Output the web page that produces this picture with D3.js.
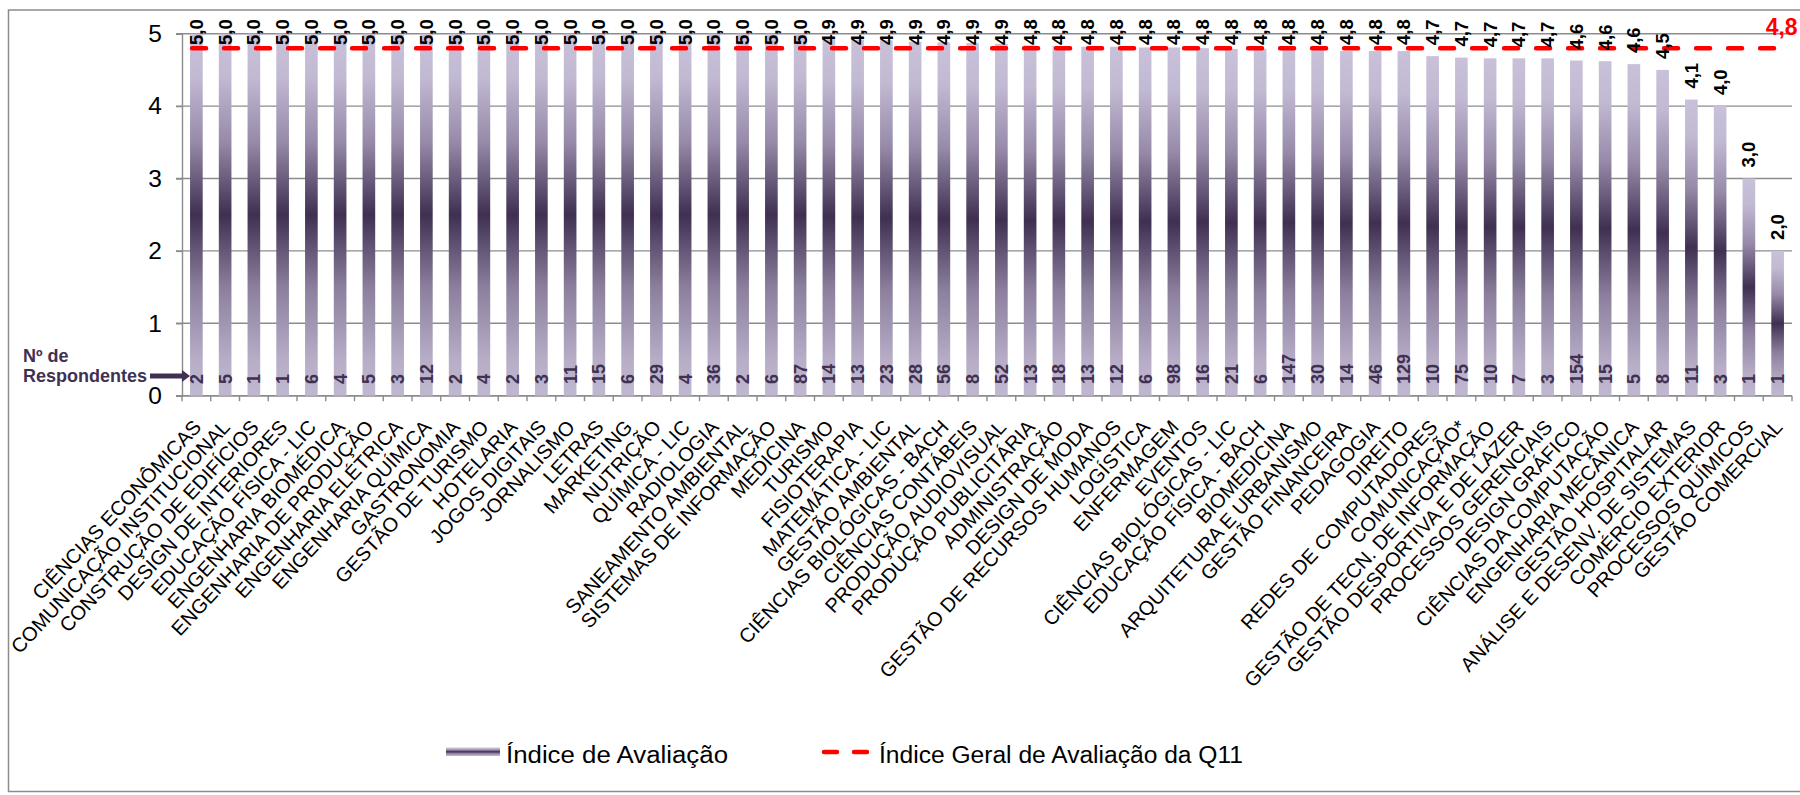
<!DOCTYPE html>
<html>
<head>
<meta charset="utf-8">
<script src="https://cdn.jsdelivr.net/npm/d3@7"></script>
<style>
  html, body { margin: 0; padding: 0; background: #fff; }
  svg { display: block; font-family: "Liberation Sans", Arial, sans-serif; }
</style>
</head>
<body>
<svg id="chart" width="1800" height="795"></svg>
<script>
const categories = [
  "CIÊNCIAS ECONÔMICAS", "COMUNICAÇÃO INSTITUCIONAL", "CONSTRUÇÃO DE EDIFÍCIOS", "DESIGN DE INTERIORES",
  "EDUCAÇÃO FÍSICA - LIC", "ENGENHARIA BIOMÉDICA", "ENGENHARIA DE PRODUÇÃO", "ENGENHARIA ELÉTRICA",
  "ENGENHARIA QUÍMICA", "GASTRONOMIA", "GESTÃO DE TURISMO", "HOTELARIA", "JOGOS DIGITAIS", "JORNALISMO",
  "LETRAS", "MARKETING", "NUTRIÇÃO", "QUÍMICA - LIC", "RADIOLOGIA", "SANEAMENTO AMBIENTAL",
  "SISTEMAS DE INFORMAÇÃO", "MEDICINA", "TURISMO", "FISIOTERAPIA", "MATEMÁTICA - LIC", "GESTÃO AMBIENTAL",
  "CIÊNCIAS BIOLÓGICAS - BACH", "CIÊNCIAS CONTÁBEIS", "PRODUÇÃO AUDIOVISUAL", "PRODUÇÃO PUBLICITÁRIA",
  "ADMINISTRAÇÃO", "DESIGN DE MODA", "GESTÃO DE RECURSOS HUMANOS", "LOGÍSTICA", "ENFERMAGEM", "EVENTOS",
  "CIÊNCIAS BIOLÓGICAS - LIC", "EDUCAÇÃO FÍSICA - BACH", "BIOMEDICINA", "ARQUITETURA E URBANISMO",
  "GESTÃO FINANCEIRA", "PEDAGOGIA", "DIREITO", "REDES DE COMPUTADORES", "COMUNICAÇÃO*",
  "GESTÃO DE TECN. DE INFORMAÇÃO", "GESTÃO DESPORTIVA E DE LAZER", "PROCESSOS GERENCIAIS", "DESIGN GRÁFICO",
  "CIÊNCIAS DA COMPUTAÇÃO", "ENGENHARIA MECÂNICA", "GESTÃO HOSPITALAR", "ANÁLISE E DESENV. DE SISTEMAS",
  "COMÉRCIO EXTERIOR", "PROCESSOS QUÍMICOS", "GESTÃO COMERCIAL"
];
const indexValues = [
  5.0, 5.0, 5.0, 5.0, 5.0, 5.0, 5.0, 5.0, 5.0, 5.0, 5.0, 5.0, 5.0, 5.0, 5.0, 5.0, 5.0, 5.0, 5.0, 5.0, 5.0, 5.0,
  4.94, 4.92, 4.91, 4.89, 4.88, 4.87, 4.86,
  4.84, 4.83, 4.82, 4.82, 4.81, 4.81, 4.80, 4.79, 4.79, 4.79, 4.78, 4.76, 4.76, 4.76,
  4.69, 4.67, 4.66, 4.66, 4.66,
  4.63, 4.62, 4.58,
  4.50, 4.09, 4.00, 3.00, 2.00
];
const respondents = [
  2, 5, 1, 1, 6, 4, 5, 3, 12, 2, 4, 2, 3, 11, 15, 6, 29, 4, 36, 2, 6, 87,
  14, 13, 23, 28, 56, 8, 52,
  13, 18, 13, 12, 6, 98, 16, 21, 6, 147, 30, 14, 46, 129,
  10, 75, 10, 7, 3,
  154, 15, 5,
  8, 11, 3, 1, 1
];
const yTickValues = [0, 1, 2, 3, 4, 5];
const overallIndex = 4.8;
const legendLabels = ["Índice de Avaliação", "Índice Geral de Avaliação da Q11"];
const respondentsNote = ["Nº de", "Respondentes"];

const svg = d3.select("#chart");
const plot = { left: 182, right: 1792, top: 33.7, bottom: 395.7 };
const fmt = v => d3.format(".1f")(v).replace(".", ",");
const purple = "#403152";
const gridColor = "#8c8c8c";

const defs = svg.append("defs");
const grad = defs.append("linearGradient").attr("id", "barGrad")
  .attr("x1", 0).attr("y1", 0).attr("x2", 0).attr("y2", 1);
[[0, "#c9c1da"], [0.12, "#c2b9d3"], [0.3, "#968aa8"], [0.5, "#3f3052"], [0.7, "#8b7f9d"], [0.9, "#b7adc7"], [1, "#c0b7d0"]]
  .forEach(([o, c]) => grad.append("stop").attr("offset", o).attr("stop-color", c));

// outer chart border
svg.append("rect").attr("x", 8.5).attr("y", 10).attr("width", 1800).attr("height", 781.5)
  .attr("fill", "none").attr("stroke", gridColor).attr("stroke-width", 1.5);

const x = d3.scaleBand().domain(categories).range([plot.left, plot.right])
  .paddingInner(0.56).paddingOuter(0.28);
const y = d3.scaleLinear().domain([0, 5]).range([plot.bottom, plot.top]);
const step = x.step();
const bw = x.bandwidth();
const cx = c => x(c) + bw / 2;

// gridlines
svg.append("g").selectAll("line").data(yTickValues).join("line")
  .attr("x1", plot.left - 6).attr("x2", plot.right)
  .attr("y1", d => y(d)).attr("y2", d => y(d))
  .attr("stroke", gridColor).attr("stroke-width", 1.4);

// y axis
const yAxis = svg.append("g").attr("transform", `translate(${plot.left},0)`)
  .call(d3.axisLeft(y).tickValues(yTickValues).tickSize(6).tickPadding(14).tickFormat(d3.format("d")));
yAxis.select(".domain").attr("stroke", gridColor).attr("stroke-width", 1.4);
yAxis.selectAll(".tick line").attr("stroke", gridColor).attr("stroke-width", 1.4);
yAxis.selectAll(".tick text").attr("font-size", 24.5).attr("fill", "#000")
  .attr("font-family", "'Liberation Sans', Arial, sans-serif");

// x axis line + boundary ticks
svg.append("line").attr("x1", plot.left).attr("x2", plot.right)
  .attr("y1", plot.bottom).attr("y2", plot.bottom).attr("stroke", gridColor).attr("stroke-width", 1.4);
svg.append("g").selectAll("line").data(d3.range(categories.length + 1)).join("line")
  .attr("x1", i => plot.left + i * step).attr("x2", i => plot.left + i * step)
  .attr("y1", plot.bottom).attr("y2", plot.bottom + 5.5)
  .attr("stroke", gridColor).attr("stroke-width", 1.4);

// bars
svg.append("g").selectAll("rect").data(categories).join("rect")
  .attr("x", d => x(d)).attr("width", bw)
  .attr("y", (d, i) => y(indexValues[i]))
  .attr("height", (d, i) => y(0) - y(indexValues[i]))
  .attr("fill", "url(#barGrad)");

// overall index line
svg.append("line")
  .attr("x1", x(categories[0]) + 2).attr("x2", cx(categories[categories.length - 1]))
  .attr("y1", y(overallIndex)).attr("y2", y(overallIndex))
  .attr("stroke", "#ff0000").attr("stroke-width", 4.5)
  .attr("stroke-linecap", "round").attr("stroke-dasharray", "14,18");
svg.append("text")
  .attr("x", cx(categories[categories.length - 1]) - 12).attr("y", y(overallIndex) - 13)
  .attr("font-size", 23).attr("font-weight", "bold").attr("fill", "#ff0000")
  .text(fmt(overallIndex));

// value labels (rotated)
svg.append("g").selectAll("text").data(categories).join("text")
  .attr("transform", (d, i) => `translate(${cx(d) + 6.5},${Math.max(y(indexValues[i]) - 11, 45)}) rotate(-90)`)
  .attr("font-size", 18.5).attr("font-weight", "bold").attr("fill", "#000")
  .text((d, i) => fmt(indexValues[i]));

// respondent counts (rotated, inside bars)
svg.append("g").selectAll("text").data(categories).join("text")
  .attr("transform", d => `translate(${cx(d) + 6.5},384) rotate(-90)`)
  .attr("font-size", 18).attr("font-weight", "bold").attr("fill", purple)
  .text((d, i) => respondents[i]);

// category labels
svg.append("g").selectAll("text").data(categories).join("text")
  .attr("transform", d => `translate(${cx(d) + 6},428) rotate(-47)`)
  .attr("text-anchor", "end").attr("font-size", 20).attr("fill", "#000")
  .text(d => d);

// respondents note + arrow
svg.append("text").attr("x", 23).attr("y", 361.5)
  .attr("font-size", 18).attr("font-weight", "bold").attr("fill", purple).text(respondentsNote[0]);
svg.append("text").attr("x", 23).attr("y", 381.5)
  .attr("font-size", 18).attr("font-weight", "bold").attr("fill", purple).text(respondentsNote[1]);
svg.append("rect").attr("x", 150).attr("y", 373.5).attr("width", 33).attr("height", 5).attr("fill", purple);
svg.append("path").attr("d", "M182,370 L190,376 L182,382 Z").attr("fill", purple);

// legend
svg.append("rect").attr("x", 446).attr("y", 747.5).attr("width", 54).attr("height", 8.5).attr("fill", "url(#barGrad)");
svg.append("text").attr("x", 506).attr("y", 763).attr("font-size", 23).attr("fill", "#000")
  .attr("textLength", 222).attr("lengthAdjust", "spacingAndGlyphs").text(legendLabels[0]);
svg.append("line").attr("x1", 824).attr("x2", 871).attr("y1", 752).attr("y2", 752)
  .attr("stroke", "#ff0000").attr("stroke-width", 4.5).attr("stroke-linecap", "round")
  .attr("stroke-dasharray", "13,17");
svg.append("text").attr("x", 879).attr("y", 763).attr("font-size", 23).attr("fill", "#000")
  .attr("textLength", 364).attr("lengthAdjust", "spacingAndGlyphs").text(legendLabels[1]);
</script>
</body>
</html>
